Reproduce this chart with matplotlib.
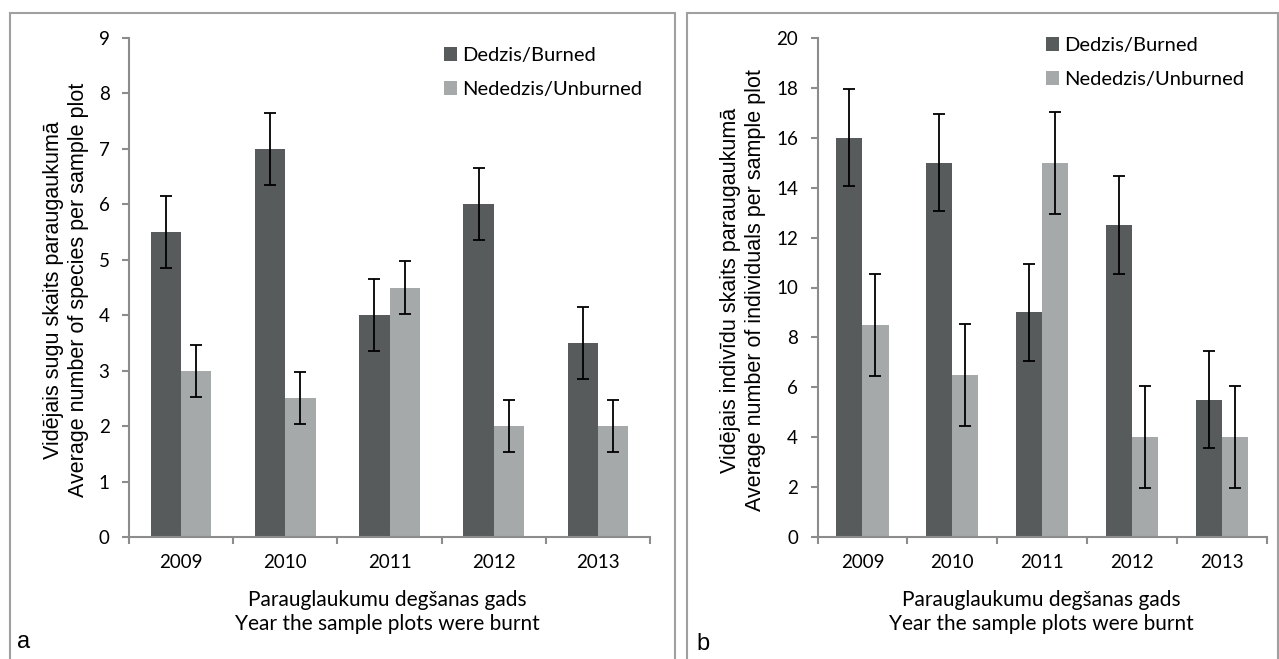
import numpy as np
import matplotlib.pyplot as plt
from matplotlib.patches import Rectangle

# datos
anios = ['2009', '2010', '2011', '2012', '2013']

especies_quemado = [5.5, 7.0, 4.0, 6.0, 3.5]
especies_quemado_err = [0.65, 0.65, 0.65, 0.65, 0.65]
especies_no_quemado = [3.0, 2.5, 4.5, 2.0, 2.0]
especies_no_quemado_err = [0.47, 0.47, 0.47, 0.47, 0.47]

indiv_quemado = [16.0, 15.0, 9.0, 12.5, 5.5]
indiv_quemado_err = [1.95, 1.95, 1.95, 1.95, 1.95]
indiv_no_quemado = [8.5, 6.5, 15.0, 4.0, 4.0]
indiv_no_quemado_err = [2.05, 2.05, 2.05, 2.05, 2.05]

W, H = 1279, 659
OSCURO = '#585b5b'
CLARO = '#a6a9a9'
GRIS = '#8c8c8c'
FUENTE = 'Lato'
FUENTE_Y = 'Liberation Sans'


def caja(x0, x1):
    # marco gris de cada panel (abierto por abajo)
    r = Rectangle((x0 / W, -0.1), (x1 - x0) / W, 1.1 - 13 / H,
                  transform=fig.transFigure, fill=False, edgecolor='#a0a0a0', lw=1.5)
    fig.patches.append(r)


def graficar_panel(ax, quemado, q_err, no_quemado, nq_err, ymax, paso):
    x = np.arange(len(anios))
    w = 0.29
    b1 = ax.bar(x - w / 2, quemado, w, color=OSCURO, label='Dedzis/Burned', zorder=2)
    b2 = ax.bar(x + w / 2, no_quemado, w, color=CLARO, label='Nededzis/Unburned', zorder=2)
    ax.errorbar(x - w / 2, quemado, yerr=q_err, fmt='none', ecolor='black',
                elinewidth=1.3, capsize=4, capthick=1.3, zorder=3)
    ax.errorbar(x + w / 2, no_quemado, yerr=nq_err, fmt='none', ecolor='black',
                elinewidth=1.3, capsize=4, capthick=1.3, zorder=3)

    ax.set_xlim(-0.5, len(anios) - 0.5)
    ax.set_ylim(0, ymax)
    ax.set_yticks(np.arange(0, ymax + 0.01, paso))
    ax.set_yticklabels([f'{int(v)}' for v in np.arange(0, ymax + 0.01, paso)])
    ax.set_xticks(x)
    ax.set_xticklabels(anios)
    ax.set_xticks(np.arange(-0.5, len(anios)), minor=True)

    for s in ['top', 'right']:
        ax.spines[s].set_visible(False)
    for s in ['left', 'bottom']:
        ax.spines[s].set_color(GRIS)
        ax.spines[s].set_linewidth(1.5)

    ax.tick_params(axis='x', which='major', length=0, pad=12, labelsize=13.5)
    ax.tick_params(axis='x', which='minor', length=5, width=1.5, color=GRIS)
    ax.tick_params(axis='y', length=5, width=1.5, color=GRIS, pad=9, labelsize=13.5)
    for t in ax.get_xticklabels() + ax.get_yticklabels():
        t.set_fontfamily(FUENTE)
    return b1, b2


fig = plt.figure(figsize=(W / 100, H / 100), dpi=100)

ax_a = fig.add_axes([129 / W, 1 - 537 / H, (650 - 129) / W, (537 - 38) / H])
ax_b = fig.add_axes([817.5 / W, 1 - 537 / H, (1267 - 817.5) / W, (537 - 38) / H])

graficar_panel(ax_a, especies_quemado, especies_quemado_err,
               especies_no_quemado, especies_no_quemado_err, 9, 1)
graficar_panel(ax_b, indiv_quemado, indiv_quemado_err,
               indiv_no_quemado, indiv_no_quemado_err, 20, 2)

# leyendas
for ax, lx, ly in [(ax_a, 444, 47), (ax_b, 1046, 37)]:
    ax.legend(loc='upper left', bbox_to_anchor=(lx / W, 1 - ly / H),
              bbox_transform=fig.transFigure, frameon=False,
              prop={'family': FUENTE, 'size': 14.5}, handlelength=0.65,
              handleheight=0.65, handletextpad=0.25, labelspacing=0.85,
              borderpad=0, borderaxespad=0)

# etiquetas de los ejes
fig.text(66.5 / W, 1 - 290 / H,
         'Vidējais sugu skaits paraugaukumā\nAverage number of species per sample plot',
         rotation=90, ha='center', va='center', family=FUENTE_Y, fontsize=15.5,
         linespacing=1.25)
fig.text(743 / W, 1 - 290 / H,
         'Vidējais indivīdu skaits paraugaukumā\nAverage number of individuals per sample plot',
         rotation=90, ha='center', va='center', family=FUENTE_Y, fontsize=15.5,
         linespacing=1.25)
for cx in [387, 1041]:
    fig.text(cx / W, 1 - 612 / H,
             'Parauglaukumu degšanas gads\nYear the sample plots were burnt',
             ha='center', va='center', family=FUENTE, fontsize=15, linespacing=1.3)

fig.text(24 / W, 1 - 648 / H, 'a', ha='center', va='baseline', family=FUENTE_Y, fontsize=17)
fig.text(703 / W, 1 - 650 / H, 'b', ha='center', va='baseline', family=FUENTE_Y, fontsize=17)

caja(10, 675)
caja(687, 1278)

fig.savefig('out.png', dpi=100)
